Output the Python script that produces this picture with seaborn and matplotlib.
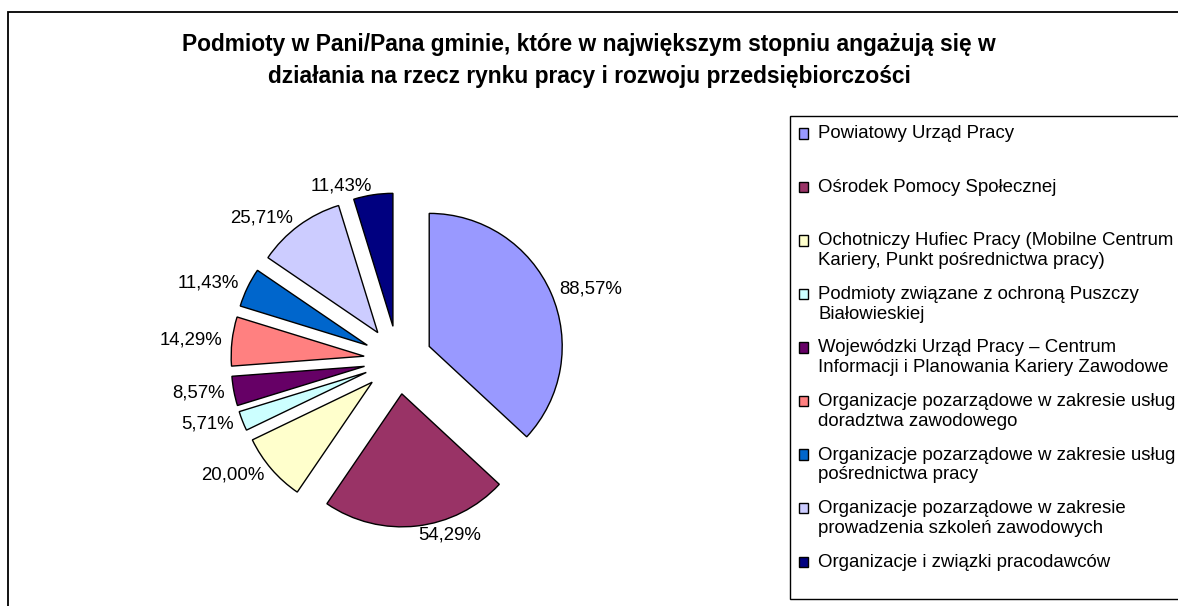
import numpy as np
import seaborn as sns
import matplotlib.pyplot as plt
from matplotlib.patches import Rectangle
from matplotlib.legend_handler import HandlerPatch

# data
categories = [
    "Powiatowy Urząd Pracy",
    "Ośrodek Pomocy Społecznej",
    "Ochotniczy Hufiec Pracy (Mobilne Centrum\nKariery, Punkt pośrednictwa pracy)",
    "Podmioty związane z ochroną Puszczy\nBiałowieskiej",
    "Wojewódzki Urząd Pracy – Centrum\nInformacji i Planowania Kariery Zawodowe",
    "Organizacje pozarządowe w zakresie usług\ndoradztwa zawodowego",
    "Organizacje pozarządowe w zakresie usług\npośrednictwa pracy",
    "Organizacje pozarządowe w zakresie\nprowadzenia szkoleń zawodowych",
    "Organizacje i związki pracodawców",
]
values = [88.57, 54.29, 20.00, 5.71, 8.57, 14.29, 11.43, 25.71, 11.43]
colors = ["#9999FF", "#993366", "#FFFFCC", "#CCFFFF", "#660066",
          "#FF8080", "#0066CC", "#CCCCFF", "#000080"]
title = ("Podmioty w Pani/Pana gminie, które w największym stopniu angażują się w\n"
         "działania na rzecz rynku pracy i rozwoju przedsiębiorczości")

sns.set_theme(style="white")
plt.rcParams['font.family'] = ['Liberation Sans', 'DejaVu Sans']
plt.rcParams['text.color'] = 'black'

W, H = 1178, 606
cx, cy, rad = 398, 360, 133   # pie centre / radius in pixels
fs = 13.4

fig = plt.figure(figsize=(W / 100, H / 100), dpi=100)
ax = fig.add_axes([0, 0, 1, 1])

pct_labels = [f"{v:.2f}%".replace(".", ",") for v in values]
wedges, texts = ax.pie(
    values, labels=pct_labels, colors=sns.color_palette(colors),
    startangle=90, counterclock=False, explode=[0.256] * len(values),
    labeldistance=1.07,
    wedgeprops=dict(edgecolor="black", linewidth=1.0),
    textprops=dict(fontsize=fs, color="black"))

ax.set_xlim(-cx / rad, (W - cx) / rad)
ax.set_ylim(-(H - cy) / rad, cy / rad)
ax.set_aspect("auto")
ax.axis("off")

fig.text(0.5, 1 - 60 / H, title, ha="center", va="center", color="black",
         fontsize=16.4, fontweight="bold", linespacing=1.5)

# outer chart frame (cut off at right and bottom like the source)
fig.add_artist(Rectangle((8 / W, -0.1), 1.2, 1.1 - 12 / H, transform=fig.transFigure,
                         fill=False, edgecolor="black", linewidth=1.3))

# legend: every entry uses a two-line slot, square aligned with first line
shift = 0.54 * fs


def first_line_square(legend, orig_handle, xdescent, ydescent, width, height, fontsize):
    return Rectangle((-xdescent, -ydescent + shift), width, height)


leg_labels = [c if "\n" in c else c + "\n" for c in categories]
leg = ax.legend(wedges, leg_labels, loc="upper left",
                bbox_to_anchor=(790 / W, 1 - 116 / H), bbox_transform=fig.transFigure,
                borderaxespad=0, borderpad=0.5, labelspacing=0.91,
                handlelength=0.48, handleheight=0.48, handletextpad=0.55,
                fontsize=fs, frameon=True, fancybox=False, framealpha=1,
                edgecolor="black", labelcolor="black",
                handler_map={w: HandlerPatch(patch_func=first_line_square) for w in wedges})
leg.get_frame().set_linewidth(1.0)

fig.savefig("out.png", dpi=100, facecolor="white")
